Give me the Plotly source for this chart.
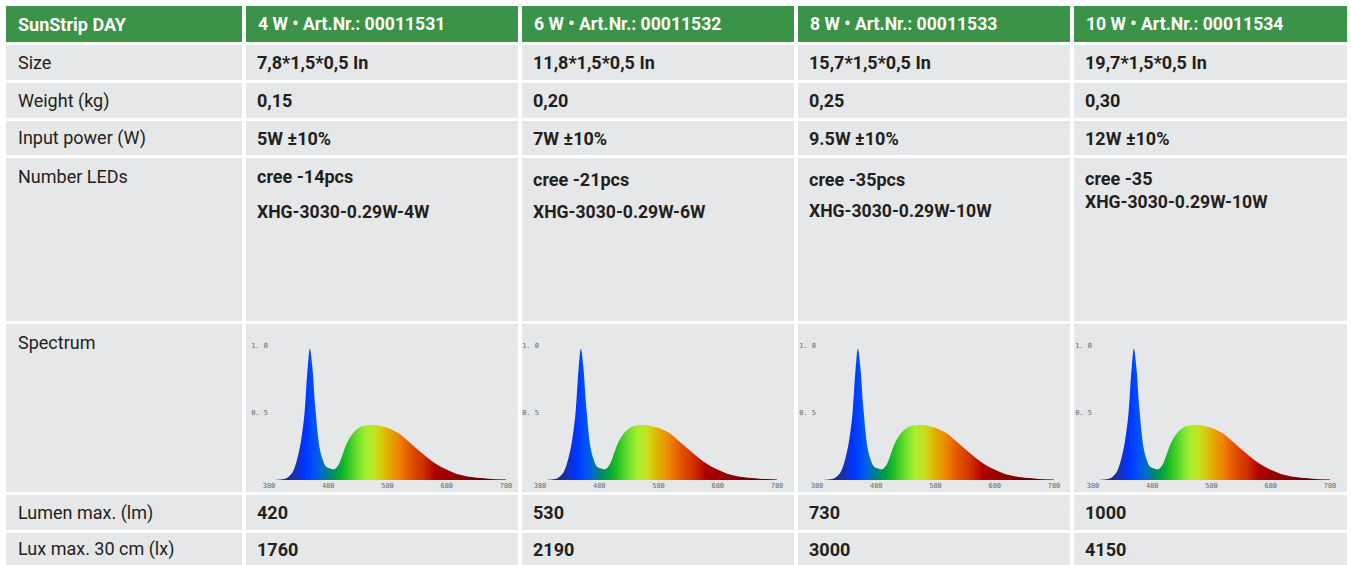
import plotly.graph_objects as go

W, H = 1351, 565

# table content
row_labels = ["Size", "Weight (kg)", "Input power (W)", "Number LEDs", "Spectrum",
              "Lumen max. (lm)", "Lux max. 30 cm (lx)"]
headers = ["SunStrip DAY", "4 W • Art.Nr.: 00011531", "6 W • Art.Nr.: 00011532",
           "8 W • Art.Nr.: 00011533", "10 W • Art.Nr.: 00011534"]
sizes = ["7,8*1,5*0,5 In", "11,8*1,5*0,5 In", "15,7*1,5*0,5 In", "19,7*1,5*0,5 In"]
weights = ["0,15", "0,20", "0,25", "0,30"]
input_power = ["5W ±10%", "7W ±10%", "9.5W ±10%", "12W ±10%"]
leds_line1 = ["cree -14pcs", "cree -21pcs", "cree -35pcs", "cree -35"]
leds_line2 = ["XHG-3030-0.29W-4W", "XHG-3030-0.29W-6W", "XHG-3030-0.29W-10W", "XHG-3030-0.29W-10W"]
lumen = ["420", "530", "730", "1000"]
lux = ["1760", "2190", "3000", "4150"]

# spectrum (same curve in all four)
wavelength = [380, 390, 400, 410, 420, 430, 435, 440, 445, 449, 453, 458, 465, 470, 476,
              483, 490, 497, 505, 512, 520, 530, 540, 550, 560, 570, 580, 590, 600, 612,
              625, 641, 655, 669, 683, 697, 711, 725, 750, 780]
intensity = [0.0, 0.0, 0.003, 0.015, 0.06, 0.2, 0.32, 0.5, 0.82, 0.98, 0.85, 0.55, 0.25,
             0.16, 0.10, 0.085, 0.08, 0.11, 0.2, 0.28, 0.34, 0.385, 0.405, 0.41, 0.41, 0.40,
             0.39, 0.37, 0.345, 0.30, 0.25, 0.19, 0.14, 0.10, 0.07, 0.045, 0.03, 0.02, 0.01, 0.004]

# layout in pixels
col_x = [(6, 242), (246, 518), (522, 794), (798, 1070), (1074, 1347)]
row_y = [(6, 42), (45, 80), (83, 118), (121, 155), (158, 321), (324, 492), (495, 530), (533, 565)]
spec_x0 = [269, 540, 817, 1093]

GREEN = "#3a9346"
GRAY = "#e6e7e8"
INK = "#231f20"
FONT = "Roboto, Liberation Sans, sans-serif"

def px(x):
    return x / W

def py(y):
    return 1 - y / H

fig = go.Figure()
shapes = []
annots = []

def txt(x, y, s, size=18, color=INK, bold=False, anchor="middle"):
    annots.append(dict(x=px(x), y=py(y), xref="paper", yref="paper", text=("<b>%s</b>" % s) if bold else s,
                       showarrow=False, xanchor="left", yanchor=anchor,
                       font=dict(family=FONT, size=size, color=color)))

for r, (y0, y1) in enumerate(row_y):
    for c, (x0, x1) in enumerate(col_x):
        shapes.append(dict(type="rect", xref="paper", yref="paper", x0=px(x0), x1=px(x1),
                           y0=py(y1), y1=py(y0), fillcolor=GREEN if r == 0 else GRAY,
                           line_width=0, layer="below"))

# header
for c, h in enumerate(headers):
    txt(col_x[c][0] + 10, 24, h, size=18 if c == 0 else 17.6, color="white", bold=True)

# row labels
for r, lab in enumerate(row_labels, start=1):
    y0, y1 = row_y[r]
    yc = (y0 + y1) / 2 if r not in (4, 5) else y0 + 18
    txt(16, yc, lab)

simple_rows = {1: sizes, 2: weights, 3: input_power, 6: lumen, 7: lux}
for r, vals in simple_rows.items():
    y0, y1 = row_y[r]
    for c, v in enumerate(vals):
        txt(col_x[c + 1][0] + 9, (y0 + y1) / 2, v, bold=True)

led_y1 = [177, 179, 179, 178]
led_y2 = [212, 212, 211, 202]
for c in range(4):
    txt(col_x[c + 1][0] + 9, led_y1[c], leds_line1[c], bold=True)
    txt(col_x[c + 1][0] + 9, led_y2[c], leds_line2[c], bold=True, size=17.6)

# spectrum panels
spec_colors = [[0.0, "#1a1a6e"], [0.1, "#1c2fa0"], [0.15, "#0033ff"], [0.19, "#0050ff"],
               [0.225, "#0070c0"], [0.25, "#008080"], [0.2875, "#00a040"], [0.325, "#20c020"],
               [0.375, "#70e030"], [0.4125, "#a8f030"], [0.45, "#c8e020"], [0.5, "#e0b000"],
               [0.55, "#f08000"], [0.6, "#e05000"], [0.65, "#d03000"], [0.7, "#b00000"],
               [0.8, "#8a0000"], [1.0, "#500000"]]
base, top = 480, 480 - 1.06 * 134
for i, x0 in enumerate(spec_x0):
    n = i + 2
    fig.add_trace(go.Scatter(x=wavelength, y=intensity, mode="lines", line=dict(width=0, shape="spline"),
                             fill="tozeroy",
                             fillgradient=dict(type="horizontal", colorscale=spec_colors, start=380, stop=780),
                             xaxis="x%d" % n, yaxis="y%d" % n, hoverinfo="skip", showlegend=False))
    ax = dict(domain=[px(x0), px(x0 + 237)], range=[380, 780], tickvals=[380, 480, 580, 680, 780],
              ticktext=["380", "480", "580", "680", "780"], showgrid=False, zeroline=False,
              showline=False, ticks="", tickfont=dict(size=7, color="#666", family="DejaVu Sans Mono"),
              anchor="y%d" % n, fixedrange=True, automargin=False)
    ay = dict(domain=[py(base), py(top)], range=[0, 1.06], tickvals=[0.5, 1.0], ticktext=["0. 5", "1. 0"],
              showgrid=False, zeroline=False, showline=False, ticks="",
              tickfont=dict(size=7, color="#666", family="DejaVu Sans Mono"),
              anchor="x%d" % n, fixedrange=True, automargin=False)
    fig.layout["xaxis%d" % n] = ax
    fig.layout["yaxis%d" % n] = ay

fig.update_layout(width=W, height=H, margin=dict(l=0, r=0, t=0, b=0, pad=0, autoexpand=False),
                  paper_bgcolor="white", plot_bgcolor="rgba(0,0,0,0)",
                  xaxis=dict(visible=False, domain=[0, 0.001]), yaxis=dict(visible=False, domain=[0, 0.001]),
                  shapes=shapes, annotations=annots)

# page margin off so the 1351x565 figure fills the window exactly
fig.write_html("out.html", config={"displayModeBar": False},
               post_script="document.body.style.margin='0';document.body.style.overflow='hidden';")
